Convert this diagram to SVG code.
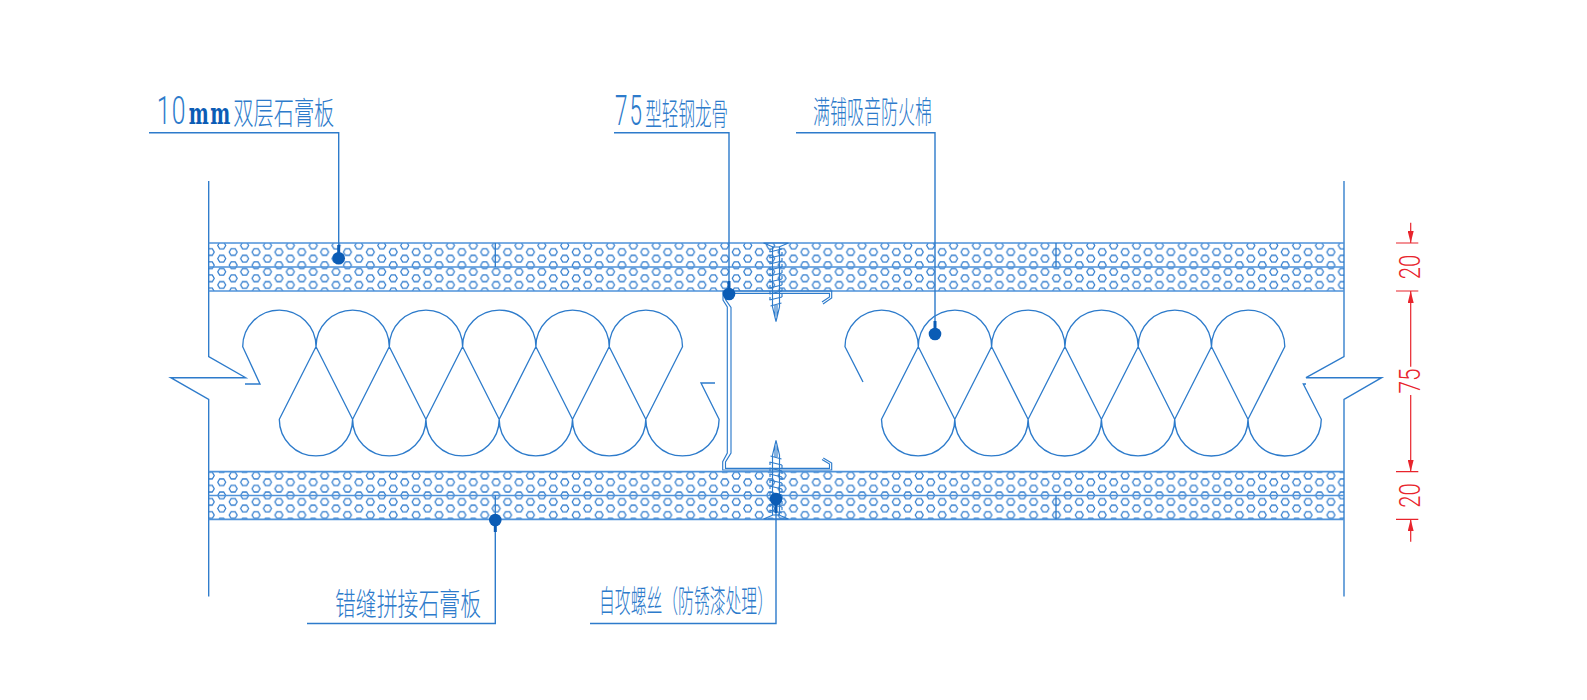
<svg xmlns="http://www.w3.org/2000/svg" xmlns:xlink="http://www.w3.org/1999/xlink" width="1587" height="700" viewBox="0 0 1587 700">
<style>
.l{fill:none;stroke:#2d7bcb;stroke-width:1.35}
.b{fill:none;stroke:#4f93da;stroke-width:1.7}
.s{fill:none;stroke:#2d7bcb;stroke-width:1.15}
.h{fill:none;stroke:#2a78cc;stroke-width:1.2}
.d{fill:none;stroke:#e8242c;stroke-width:1.2}
.dot{fill:#0b5cb5}
.stem{fill:none;stroke:#0b5cb5;stroke-width:3}
.lead{fill:none;stroke:#2d7bcb;stroke-width:1.4}
text{font-family:"Noto Sans CJK SC","Liberation Sans",sans-serif;font-weight:300;fill:#2d7bcb}
.num{font-family:"Roboto","Liberation Sans",sans-serif;font-weight:300}
.mm{font-family:"DejaVu Serif",serif;font-weight:700;fill:#0b5cb5}
.dt{font-family:"Roboto","Liberation Sans",sans-serif;font-weight:300;fill:#e8242c;font-size:29px;text-anchor:middle}
</style>
<defs>
<pattern id="hex" patternUnits="userSpaceOnUse" width="22.87" height="13.15" patternTransform="translate(216 242.2)">
<path class="h" d="M1.7,3.3l2,-3.3h4l2,3.3l-2,3.3h-4z M13.15,9.85l2,-3.3h4l2,3.3l-2,3.3h-4z M1.7,16.45l2,-3.3h4l2,3.3l-2,3.3h-4z M13.15,-3.3l2,-3.3h4l2,3.3l-2,3.3h-4z"/>
</pattern>
<marker id="arr" markerUnits="userSpaceOnUse" markerWidth="12" markerHeight="6" refX="12" refY="3" orient="auto"><path d="M0,0L12,3L0,6Z" fill="#e8242c"/></marker>
<g id="screw">
<path class="s" d="M-12.5,0H12.5L3,4H-3Z M-3.5,4V64L0,78.5L3.5,64V4 M-1,62V74 M1,62V74"/>
<path class="s" d="M-6.5,9L6,6 M-6.5,15L6,12 M-6.5,21L6,18 M-6.5,27L6,24 M-6.5,33L6,30 M-6.5,39L6,36 M-6.5,45L6,42 M-6.5,51L6,48 M-6.5,57L6,54 M-5.5,63L5.5,60"/>
<path class="s" d="M-6,6V9 M6,9V12 M-6,12V15 M6,15V18 M-6,18V21 M6,21V24 M-6,24V27 M6,27V30 M-6,30V33 M6,33V36 M-6,36V39 M6,39V42 M-6,42V45 M6,45V48 M-6,48V51 M6,51V54 M-6,54V57"/>
</g>
</defs>

<g id="wall-left"><path class="l" d="M208.7,181V356.7L245.7,377.7H170.7L208.7,399.3V596.5"/></g>
<g id="wall-right"><path class="l" d="M1344,181V356.7L1306,377.7H1381.7L1344,399.3V596.5"/></g>

<g id="board-top">
<rect x="208.7" y="243" width="1135.3" height="48" fill="url(#hex)"/>
<path class="b" d="M208.7,243H1344M208.7,267H1344M208.7,291H1344"/>
<path class="l" d="M495.3,243V267M1056,243V267"/>
</g>
<g id="board-bottom">
<rect x="208.7" y="471.7" width="1135.3" height="47.6" fill="url(#hex)"/>
<path class="b" d="M208.7,471.7H1344M208.7,495.5H1344M208.7,519.3H1344"/>
<path class="l" d="M495.3,495.5V519.3M1056,495.5V519.3"/>
</g>

<g id="insulation-left"><path class="l" d="M245,384H260L242.7,346.7A36.65,36.65 0 0 1 316,346.7L279.3,419.3A36.65,36.65 0 0 0 352.6,419.3L316,346.7A36.65,36.65 0 0 1 389.3,346.7L352.6,419.3A36.65,36.65 0 0 0 425.9,419.3L389.3,346.7A36.65,36.65 0 0 1 462.6,346.7L425.9,419.3A36.65,36.65 0 0 0 499.2,419.3L462.6,346.7A36.65,36.65 0 0 1 535.9,346.7L499.2,419.3A36.65,36.65 0 0 0 572.5,419.3L535.9,346.7A36.65,36.65 0 0 1 609.2,346.7L572.5,419.3A36.65,36.65 0 0 0 645.8,419.3L609.2,346.7A36.65,36.65 0 0 1 682.5,346.7L645.8,419.3A36.65,36.65 0 0 0 719.1,419.3L701,383H715"/></g>
<g id="insulation-right"><path class="l" d="M863,382L845,346.7A36.65,36.65 0 0 1 918.3,346.7L881.5,419.3A36.65,36.65 0 0 0 954.8,419.3L918.3,346.7A36.65,36.65 0 0 1 991.6,346.7L954.8,419.3A36.65,36.65 0 0 0 1028.1,419.3L991.6,346.7A36.65,36.65 0 0 1 1064.9,346.7L1028.1,419.3A36.65,36.65 0 0 0 1101.4,419.3L1064.9,346.7A36.65,36.65 0 0 1 1138.2,346.7L1101.4,419.3A36.65,36.65 0 0 0 1174.7,419.3L1138.2,346.7A36.65,36.65 0 0 1 1211.5,346.7L1174.7,419.3A36.65,36.65 0 0 0 1248,419.3L1211.5,346.7A36.65,36.65 0 0 1 1284.8,346.7L1248,419.3A36.65,36.65 0 0 0 1321.3,419.3L1303.3,384H1306"/></g>

<g id="stud"><path class="s" d="M823,304L831.7,298V291H723V300L727.3,307V453L722.7,461.7V470H831.7V463L823.3,458 M822,302L829.5,297V293.3H725.5V299.5L731,307.5V453L725.5,462V468.3H829.5V464L822,459.5"/></g>

<g id="screw-top"><use href="#screw" xlink:href="#screw" transform="translate(776 243)"/></g>
<g id="screw-bottom"><use href="#screw" xlink:href="#screw" transform="translate(776 519) scale(1 -1)"/></g>

<g id="connectors">
<path class="lead" d="M149,132.7H338.7V258"/>
<path class="lead" d="M614,132.7H729V294"/>
<path class="lead" d="M796,132.7H935V334"/>
<path class="lead" d="M307,623.5H495.3V520"/>
<path class="lead" d="M590,623.5H776V499"/>
</g>

<g id="marker-1"><path class="stem" d="M338.7,245V258"/><circle class="dot" cx="338.7" cy="258.3" r="6.3"/></g>
<g id="marker-2"><path class="stem" d="M729,281V294"/><circle class="dot" cx="729" cy="294" r="6.3"/></g>
<g id="marker-3"><path class="stem" d="M935,321V334"/><circle class="dot" cx="935" cy="334" r="6.3"/></g>
<g id="marker-4"><path class="stem" d="M495.3,520V532"/><circle class="dot" cx="495.3" cy="520" r="6.3"/></g>
<g id="marker-5"><path class="stem" d="M776,499V513"/><circle class="dot" cx="776" cy="499" r="6.3"/></g>

<g id="label-1"><text transform="translate(156.7 124) scale(.652 1)" font-size="31"><tspan class="num" font-size="38" letter-spacing="2">10</tspan><tspan class="mm" font-size="29" dx="3" letter-spacing="2.5">mm</tspan><tspan dx="2">双层石膏板</tspan></text></g>
<g id="label-2"><text transform="translate(615 125) scale(.535 1)" font-size="31"><tspan class="num" font-size="42" letter-spacing="4">75</tspan><tspan dx="2">型轻钢龙骨</tspan></text></g>
<g id="label-3"><text x="813" y="123" font-size="31" textLength="119" lengthAdjust="spacingAndGlyphs">满铺吸音防火棉</text></g>
<g id="label-4"><text x="335" y="615" font-size="31" textLength="146" lengthAdjust="spacingAndGlyphs">错缝拼接石膏板</text></g>
<g id="label-5"><text x="599" y="612" font-size="31" textLength="174" lengthAdjust="spacingAndGlyphs">自攻螺丝（防锈漆处理）</text></g>

<g id="dimensions">
<path class="d" d="M1396,243H1418.3M1396,291H1418.3M1396,471.7H1418.3M1396,519.3H1418.3"/>
<path class="d" marker-end="url(#arr)" d="M1410.7,222.7V243"/>
<path class="d" marker-end="url(#arr)" d="M1410.7,366.7V291"/>
<path class="d" marker-end="url(#arr)" d="M1410.7,395V471.7"/>
<path class="d" marker-end="url(#arr)" d="M1410.7,541.7V519.3"/>
<text class="dt" transform="translate(1420 267) rotate(-90)" textLength="24.5" lengthAdjust="spacingAndGlyphs">20</text>
<text class="dt" transform="translate(1420 381) rotate(-90)" textLength="25" lengthAdjust="spacingAndGlyphs">75</text>
<text class="dt" transform="translate(1420 495.5) rotate(-90)" textLength="24.5" lengthAdjust="spacingAndGlyphs">20</text>
</g>
</svg>
